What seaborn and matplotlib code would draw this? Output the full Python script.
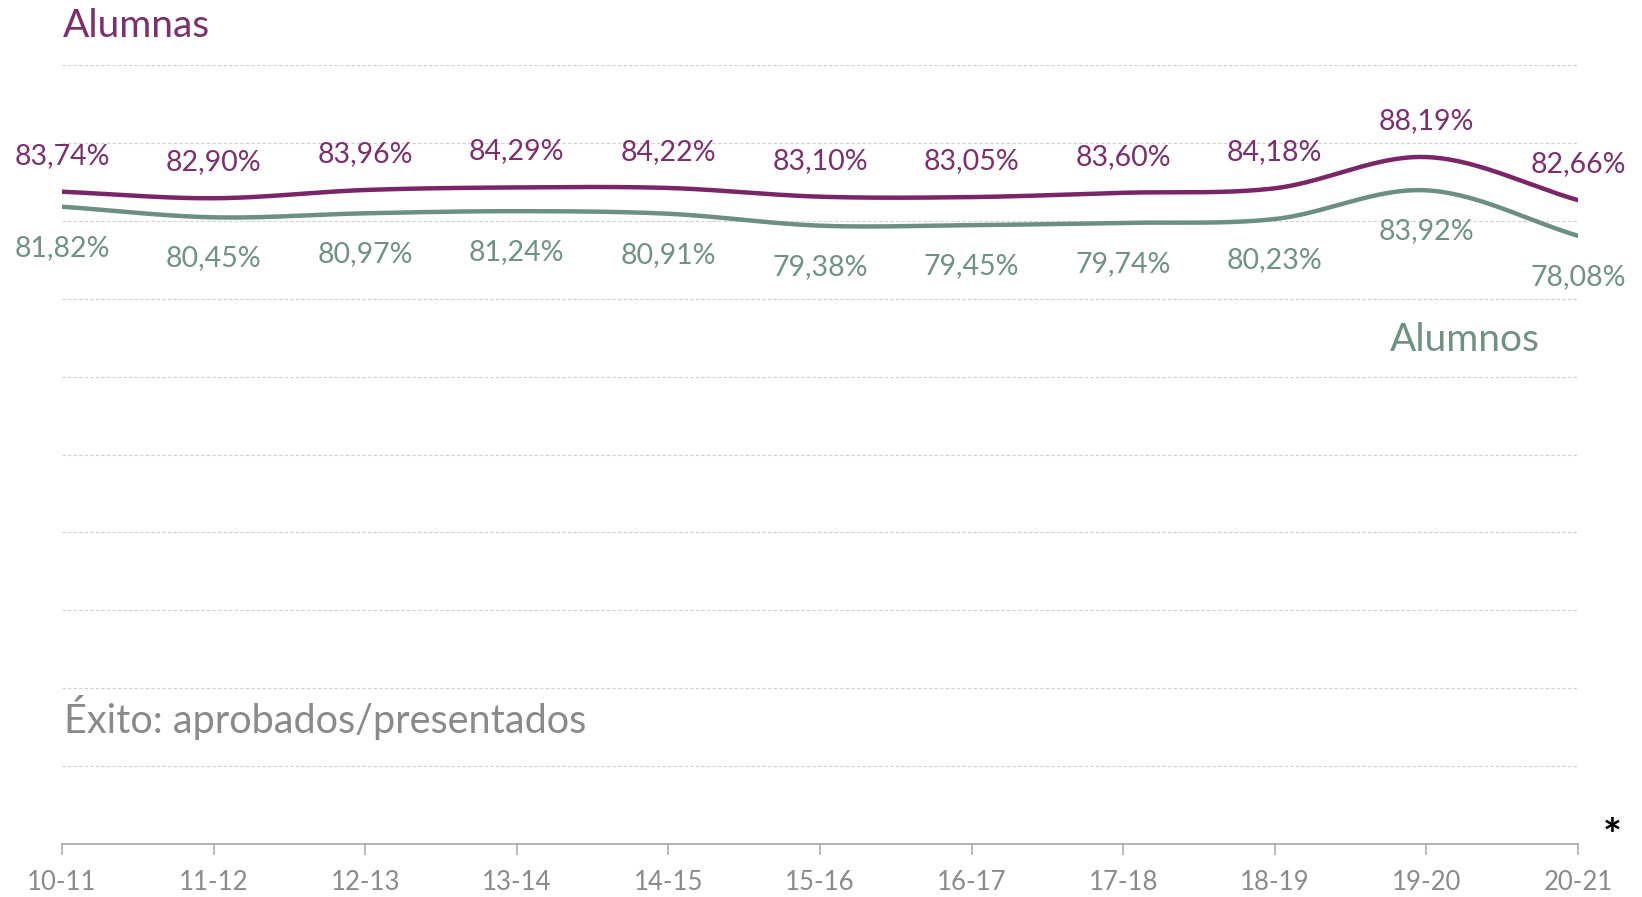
import numpy as np
import pandas as pd
import matplotlib
matplotlib.use("Agg")
import matplotlib.pyplot as plt
import seaborn as sns

# Academic years and success rates (%)
cursos = ["10-11", "11-12", "12-13", "13-14", "14-15", "15-16",
          "16-17", "17-18", "18-19", "19-20", "20-21"]
alumnas = [83.74, 82.90, 83.96, 84.29, 84.22, 83.10, 83.05, 83.60, 84.18, 88.19, 82.66]
alumnos = [81.82, 80.45, 80.97, 81.24, 80.91, 79.38, 79.45, 79.74, 80.23, 83.92, 78.08]

COL_F = "#7a2568"
COL_M = "#6b8f80"
TXT_F = "#7d2e6c"
TXT_M = "#6f9283"
GRAY = "#8a8a8a"

sns.set_theme(style="white")
plt.rcParams["font.family"] = ["Lato", "DejaVu Sans"]


def smooth(y, n=40):
    """Catmull-Rom style smoothing between consecutive points."""
    y = np.asarray(y, dtype=float)
    x = np.arange(len(y), dtype=float)
    p = np.concatenate([[2 * y[0] - y[1]], y, [2 * y[-1] - y[-2]]])
    xs, ys = [], []
    for i in range(len(y) - 1):
        p0, p1, p2, p3 = p[i], p[i + 1], p[i + 2], p[i + 3]
        t = np.linspace(0, 1, n, endpoint=(i == len(y) - 2))
        seg = 0.5 * ((2 * p1) + (-p0 + p2) * t
                     + (2 * p0 - 5 * p1 + 4 * p2 - p3) * t ** 2
                     + (-p0 + 3 * p1 - 3 * p2 + p3) * t ** 3)
        xs.append(x[i] + t)
        ys.append(seg)
    return np.concatenate(xs), np.concatenate(ys)


xf, yf = smooth(alumnas)
xm, ym = smooth(alumnos)
df = pd.concat([
    pd.DataFrame({"x": xf, "y": yf, "serie": "Alumnas"}),
    pd.DataFrame({"x": xm, "y": ym, "serie": "Alumnos"}),
])

fig = plt.figure(figsize=(16.42, 8.97), dpi=100)
ax = fig.add_axes([0.0378, 0.059, 0.9232, 0.8685])

sns.lineplot(data=df, x="x", y="y", hue="serie",
             palette={"Alumnas": COL_F, "Alumnos": COL_M},
             linewidth=3.2, legend=False, ax=ax, sort=False)

ax.set_xlim(0, len(cursos) - 1)
ax.set_ylim(0, 100)
ax.set_yticks(np.arange(0, 101, 10))
ax.set_yticklabels([])
ax.yaxis.grid(True, color="#cfcfcf", linestyle=(0, (3, 2)), linewidth=0.8)
ax.xaxis.grid(False)
ax.tick_params(axis="y", length=0)
for s in ["top", "right", "left"]:
    ax.spines[s].set_visible(False)
ax.spines["bottom"].set_color("#a6a6a6")
ax.spines["bottom"].set_linewidth(1.2)
ax.set_xticks(range(len(cursos)))
ax.set_xticklabels(cursos, color=GRAY, fontsize=18.5)
ax.tick_params(axis="x", length=8, width=1.1, color="#a6a6a6",
               direction="out", bottom=True, pad=11)
ax.set_xlabel("")
ax.set_ylabel("")


def fmt(v):
    return f"{v:.2f}".replace(".", ",") + "%"


for i, (vf, vm) in enumerate(zip(alumnas, alumnos)):
    ax.annotate(fmt(vf), (i, vf), xytext=(0, 26), textcoords="offset points",
                ha="center", va="center", color=TXT_F, fontsize=20.5)
    ax.annotate(fmt(vm), (i, vm), xytext=(0, -29.5), textcoords="offset points",
                ha="center", va="center", color=TXT_M, fontsize=20.5)

fig.text(0.038, 0.971, "Alumnas", color=TXT_F, fontsize=28, ha="left", va="center")
fig.text(0.892, 0.621, "Alumnos", color=TXT_M, fontsize=28, ha="center", va="center")
fig.text(0.039, 0.2, "Éxito: aprobados/presentados", color=GRAY, fontsize=28.5,
         ha="left", va="center")
fig.text(0.982, 0.067, "*", color="black", fontsize=32, ha="center", va="center",
         fontweight="bold")

fig.savefig("out.png", dpi=100, facecolor="white")
